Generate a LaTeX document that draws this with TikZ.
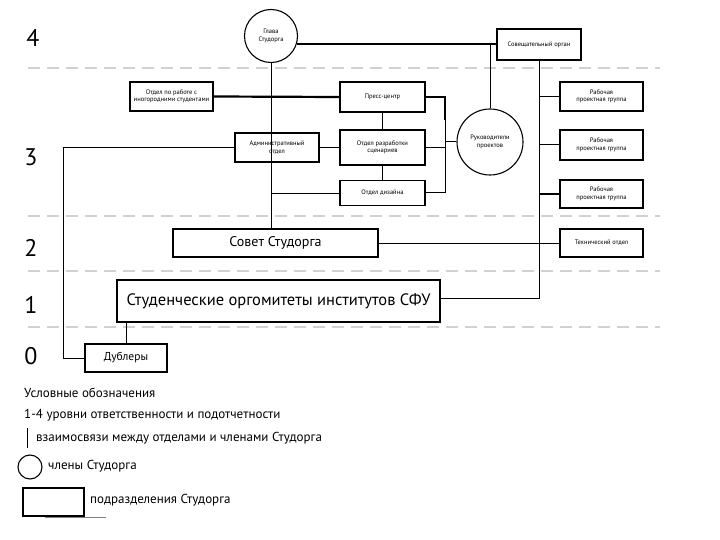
\documentclass[tikz,border=0pt]{standalone}
\usepackage{fontspec}
\setmainfont{PT Sans}
\begin{document}
\begin{tikzpicture}[x=1pt,y=-1pt,
  unit/.style={draw,line width=1.1pt,inner sep=1pt,align=center,font=\fontsize{6.5}{7.5}\selectfont},
  member/.style={draw,circle,line width=1.1pt,inner sep=0pt,align=center,font=\fontsize{6.5}{7.5}\selectfont},
  link/.style={line width=1pt},
  thin link/.style={line width=0.7pt},
  thick link/.style={line width=2.2pt},
  level/.style={dash pattern=on 12pt off 7pt,line width=1.2pt,draw=black!18},
  lvlnum/.style={font=\fontsize{24}{24}\selectfont},
  legtext/.style={anchor=west,inner sep=0pt,font=\fontsize{13}{15}\selectfont}]
\useasboundingbox (0,0) rectangle (720,540);
% level separators
\draw[level] (28,68) -- (660,68);
\draw[level] (28,216) -- (660,216);
\draw[level] (28,271) -- (660,271);
\draw[level] (28,327) -- (660,327);
% level numbers
\node[lvlnum] (l4) at (33,38) {4};
\node[lvlnum] (l3) at (31,157) {3};
\node[lvlnum] (l2) at (31,248) {2};
\node[lvlnum] (l1) at (31,305) {1};
\node[lvlnum] (l0) at (31,356) {0};
% members
\node[member,minimum size=53pt] (glava) at (271,36) {Глава\\Студорга};
\node[member,minimum size=66pt] (ruk) at (490,142) {Руководители\\проектов};
% units
\node[unit,minimum width=84pt,minimum height=31pt] (sov) at (539,44.5) {Совещательный орган};
\node[unit,minimum width=83pt,minimum height=29pt] (otd) at (171.5,96.5) {Отдел по работе с\\иногородними студентами};
\node[unit,minimum width=85pt,minimum height=30pt] (press) at (382.5,97) {Пресс-центр};
\node[unit,minimum width=85pt,minimum height=35pt] (scen) at (382.5,147.5) {Отдел разработки\\сценариев};
\node[unit,minimum width=85pt,minimum height=25pt] (diz) at (382.5,193) {Отдел дизайна};
\node[unit,minimum width=84pt,minimum height=29pt] (adm) at (277,147.5) {Административный\\отдел};
\node[unit,minimum width=83pt,minimum height=29pt] (rg1) at (601.5,96.5) {Рабочая\\проектная группа};
\node[unit,minimum width=83pt,minimum height=30pt] (rg2) at (601.5,145) {Рабочая\\проектная группа};
\node[unit,minimum width=83pt,minimum height=28pt] (rg3) at (601.5,194) {Рабочая\\проектная группа};
\node[unit,minimum width=83pt,minimum height=28pt] (tech) at (601.5,243) {Технический отдел};
\node[unit,minimum width=205pt,minimum height=28pt,font=\fontsize{14}{16}\selectfont] (sovet) at (275.5,243) {Совет Студорга};
\node[unit,minimum width=323pt,minimum height=42pt,font=\fontsize{16.5}{18}\selectfont] (stud) at (278.5,301) {Студенческие оргомитеты институтов СФУ};
\node[unit,minimum width=82pt,minimum height=28pt,font=\fontsize{11.5}{13}\selectfont] (dub) at (126,358) {Дублеры};
% connectors
\draw[line width=1.6pt] (glava.-17) -- (glava.-17 -| sov.west);
\draw[link] (ruk.north) -- (ruk.north |- glava.-17);
\draw[thin link] (glava.south) -- (glava.south |- diz.west) -- (diz.west);
\draw[thin link] (glava.south |- diz.west) -- (glava.south |- sovet.north);
\draw[thick link] (otd.east) -- (press.west);
\draw[link] (adm.east) -- (scen.west);
\draw[link] (press.south) -- (scen.north);
\draw[link] (scen.south) -- (diz.north);
\coordinate (bt) at (445,97);
\coordinate (bb) at (445,193);
\draw[thick link] (press.east) -- (bt) -- (445,120);
\draw[link] (445,120) -- (bb) -- (diz.east);
\draw[link] (scen.east) -- (scen.east -| bt);
\draw[link] (ruk.west) -- (ruk.west -| bt);
\coordinate (rb) at (539,298);
\draw[link] (sov.south) -- (rb) -- (rb -| stud.east);
\draw[link] (rg1.west -| rb) -- (rg1.west);
\draw[link] (rg2.west -| rb) -- (rg2.west);
\draw[thick link] (rg3.west -| rb) -- (rg3.west);
\draw[link] (sovet.east) -- (tech.west);
\draw[link] (dub.north) -- (dub.north |- stud.south);
\coordinate (lc) at (63,147.5);
\draw[link] (adm.west) -- (lc) -- (lc |- dub.west) -- (dub.west);
% legend
\node[legtext] (lg1) at (24,393) {Условные обозначения};
\node[legtext] (lg2) at (24,415) {1-4 уровни ответственности и подотчетности};
\coordinate (lgl) at (27,428);
\draw[link] (lgl) -- (27,448);
\node[legtext] (lg3) at (36,438) {взаимосвязи между отделами и членами Студорга};
\node[draw,circle,line width=1.1pt,minimum size=24pt,inner sep=0pt] (lgc) at (30,467) {};
\node[legtext] (lg4) at (48,466) {члены Студорга};
\node[draw,line width=1.1pt,minimum width=61pt,minimum height=28pt,inner sep=0pt] (lgr) at (53.5,502) {};
\node[legtext] (lg5) at (90,500) {подразделения Студорга};
\draw[line width=0.6pt,black!50] (45,517) -- (106,517);
\end{tikzpicture}
\end{document}
